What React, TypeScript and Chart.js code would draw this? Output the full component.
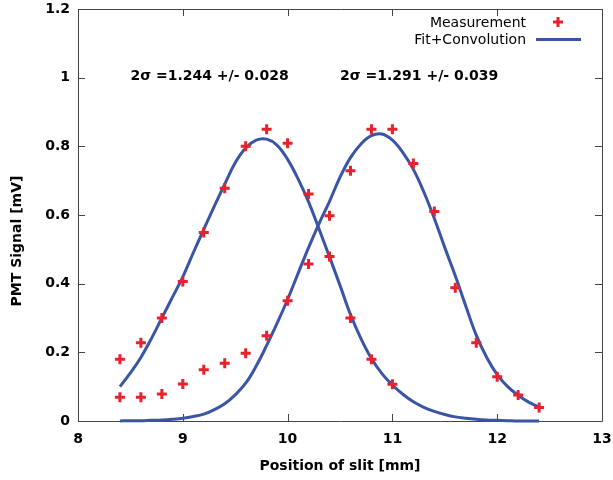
import { useEffect, useRef } from "react";
import { Chart, registerables } from "chart.js";

Chart.register(...registerables);

// Measurement set 1 (left peak)
const measX1 = [8.4, 8.6, 8.8, 9.0, 9.2, 9.4, 9.6, 9.8, 10.0, 10.2, 10.4, 10.6, 10.8, 11.0];
const measY1 = [0.18, 0.228, 0.30, 0.406, 0.549, 0.678, 0.80, 0.85, 0.809, 0.661, 0.479, 0.30, 0.18, 0.107];

// Measurement set 2 (right peak)
const measX2 = [8.4, 8.6, 8.8, 9.0, 9.2, 9.4, 9.6, 9.8, 10.0, 10.2, 10.4, 10.6, 10.8, 11.0, 11.2, 11.4, 11.6, 11.8, 12.0, 12.2, 12.4];
const measY2 = [0.069, 0.069, 0.079, 0.108, 0.149, 0.168, 0.197, 0.248, 0.35, 0.457, 0.598, 0.729, 0.85, 0.85, 0.75, 0.61, 0.388, 0.228, 0.129, 0.076, 0.039];

// Fit curves (x from 8.4 to 12.4, every 0.1)
const fitX = [
  8.4, 8.5, 8.6, 8.7, 8.8, 8.9, 9.0, 9.1, 9.2, 9.3, 9.4, 9.5, 9.6, 9.7, 9.8, 9.9, 10.0, 10.1, 10.2, 10.3, 10.4,
  10.5, 10.6, 10.7, 10.8, 10.9, 11.0, 11.1, 11.2, 11.3, 11.4, 11.5, 11.6, 11.7, 11.8, 11.9, 12.0, 12.1, 12.2, 12.3, 12.4,
];
const fitY1 = [
  0.10, 0.14, 0.185, 0.24, 0.30, 0.36, 0.42, 0.49, 0.558, 0.625, 0.69, 0.752, 0.795, 0.818, 0.821, 0.803, 0.762, 0.705, 0.638, 0.559, 0.478,
  0.395, 0.31, 0.24, 0.182, 0.138, 0.105, 0.078, 0.056, 0.04, 0.028, 0.019, 0.012, 0.008, 0.005, 0.003, 0.002, 0.001, 0.0, 0.0, 0.0,
];
const fitY2 = [
  0.0, 0.001, 0.001, 0.002, 0.003, 0.005, 0.008, 0.013, 0.02, 0.033, 0.05, 0.076, 0.11, 0.16, 0.22, 0.285, 0.354, 0.43, 0.505, 0.575, 0.64,
  0.71, 0.767, 0.807, 0.831, 0.836, 0.818, 0.782, 0.733, 0.667, 0.59, 0.505, 0.423, 0.335, 0.25, 0.185, 0.135, 0.1, 0.075, 0.055, 0.04,
];

const xMin = 8;
const xMax = 13;
const xStep = 1;
const yMin = 0;
const yMax = 1.2;
const yStep = 0.2;

const legendLabels = ["Measurement", "Fit+Convolution"];
const xTitle = "Position of slit [mm]";
const yTitle = "PMT Signal [mV]";

const annotationTexts = ["2σ =1.244 +/- 0.028", "2σ =1.291 +/- 0.039"];
const annotationX = [8.5, 10.5];
const annotationY = [1.003, 1.003];

const RED = "#e8222b";
const BLUE = "#3a55a6";
const FRAME = "#444444";
const FONT = "'DejaVu Sans', sans-serif";

const toPts = (xs: number[], ys: number[]) => xs.map((x, i) => ({ x, y: ys[i] }));

const framePlugin = {
  id: "gnuplotFrame",
  beforeDatasetsDraw(chart: any) {
    const { ctx, chartArea: a, scales } = chart;
    const tl = 7;
    ctx.save();
    ctx.strokeStyle = FRAME;
    ctx.lineWidth = 1;
    ctx.beginPath();
    ctx.rect(Math.round(a.left) + 0.5, Math.round(a.top) + 0.5, Math.round(a.right - a.left), Math.round(a.bottom - a.top));
    ctx.stroke();
    ctx.beginPath();
    scales.x.ticks.forEach((t: any) => {
      const px = Math.round(scales.x.getPixelForValue(t.value)) + 0.5;
      ctx.moveTo(px, a.bottom);
      ctx.lineTo(px, a.bottom - tl);
      ctx.moveTo(px, a.top);
      ctx.lineTo(px, a.top + tl);
    });
    scales.y.ticks.forEach((t: any) => {
      const py = Math.round(scales.y.getPixelForValue(t.value)) + 0.5;
      ctx.moveTo(a.left, py);
      ctx.lineTo(a.left + tl, py);
      ctx.moveTo(a.right, py);
      ctx.lineTo(a.right - tl, py);
    });
    ctx.stroke();
    ctx.restore();
  },
  afterDraw(chart: any) {
    const { ctx, scales } = chart;
    ctx.save();
    // annotations
    ctx.fillStyle = "#000";
    ctx.font = `bold 14px ${FONT}`;
    ctx.textAlign = "left";
    ctx.textBaseline = "middle";
    annotationTexts.forEach((t, i) => {
      ctx.fillText(t, scales.x.getPixelForValue(annotationX[i]), scales.y.getPixelForValue(annotationY[i]));
    });
    // y title
    ctx.save();
    ctx.translate(17, 241);
    ctx.rotate(-Math.PI / 2);
    ctx.textAlign = "center";
    ctx.textBaseline = "middle";
    ctx.fillText(yTitle, 0, 0);
    ctx.restore();
    // legend
    ctx.font = `14px ${FONT}`;
    ctx.textAlign = "right";
    ctx.textBaseline = "alphabetic";
    ctx.fillStyle = "#000";
    ctx.fillText(legendLabels[0], 526, 27);
    ctx.fillText(legendLabels[1], 526, 44);
    ctx.strokeStyle = RED;
    ctx.lineWidth = 3;
    ctx.beginPath();
    ctx.moveTo(553, 22);
    ctx.lineTo(563, 22);
    ctx.moveTo(558, 17);
    ctx.lineTo(558, 27);
    ctx.stroke();
    ctx.strokeStyle = BLUE;
    ctx.beginPath();
    ctx.moveTo(536, 39.5);
    ctx.lineTo(581, 39.5);
    ctx.stroke();
    ctx.restore();
  },
};

export default function App() {
  const ref = useRef<HTMLCanvasElement | null>(null);
  useEffect(() => {
    if (!ref.current) return;
    const fitStyle = {
      showLine: true,
      pointRadius: 0,
      borderColor: BLUE,
      backgroundColor: BLUE,
      borderWidth: 3,
      tension: 0.4,
      clip: false as any,
    };
    const measStyle = {
      showLine: false,
      pointStyle: "cross" as const,
      pointRadius: 5,
      pointBorderWidth: 3,
      borderColor: RED,
      backgroundColor: RED,
      pointBorderColor: RED,
      clip: false as any,
    };
    const chart = new Chart(ref.current, {
      type: "scatter",
      data: {
        datasets: [
          { label: legendLabels[1], data: toPts(fitX, fitY1), ...fitStyle, order: 2 },
          { label: legendLabels[1], data: toPts(fitX, fitY2), ...fitStyle, order: 2 },
          { label: legendLabels[0], data: toPts(measX1, measY1), ...measStyle, order: 1 },
          { label: legendLabels[0], data: toPts(measX2, measY2), ...measStyle, order: 1 },
        ],
      },
      options: {
        animation: false,
        responsive: false,
        devicePixelRatio: 1,
        layout: { padding: { top: 9, right: 11, left: 0, bottom: 0 } },
        plugins: { legend: { display: false }, tooltip: { enabled: false } },
        scales: {
          x: {
            type: "linear",
            min: xMin,
            max: xMax,
            ticks: { stepSize: xStep, padding: 10, color: "#000", font: { family: FONT, size: 14, weight: "bold" } },
            grid: { display: false, drawTicks: false },
            border: { display: false },
            title: { display: true, text: xTitle, color: "#000", padding: { top: 0, bottom: 5 }, font: { family: FONT, size: 14, weight: "bold" } },
            afterFit: (s: any) => {
              s.height = 59;
              s.paddingLeft = 0;
              s.paddingRight = 0;
            },
          },
          y: {
            type: "linear",
            min: yMin,
            max: yMax,
            ticks: {
              stepSize: yStep,
              padding: 8,
              color: "#000",
              font: { family: FONT, size: 14, weight: "bold" },
              callback: (v: any) => String(Number(Number(v).toFixed(2))),
            },
            grid: { display: false, drawTicks: false },
            border: { display: false },
            afterFit: (s: any) => {
              s.width = 78;
              s.paddingTop = 0;
              s.paddingBottom = 0;
            },
          },
        },
      },
      plugins: [framePlugin],
    });
    return () => chart.destroy();
  }, []);
  return (
    <div style={{ position: "fixed", left: 0, top: 0, width: 613, height: 480, background: "#fff" }}>
      <canvas ref={ref} width={613} height={480} style={{ display: "block" }} />
    </div>
  );
}
